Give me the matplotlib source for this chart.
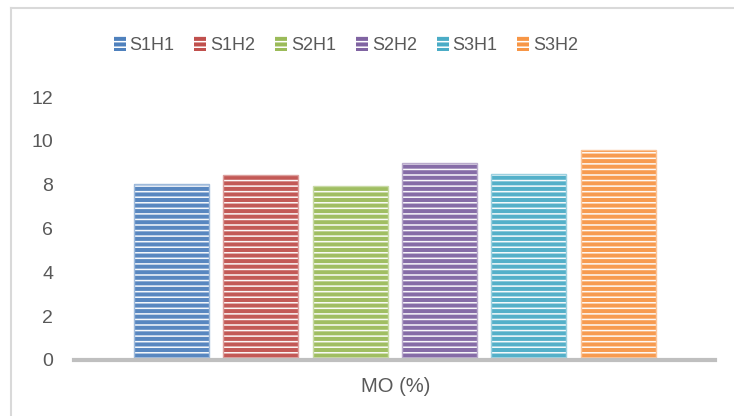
import matplotlib
matplotlib.use('Agg')
import matplotlib.pyplot as plt
import matplotlib.colors as mcolors
from matplotlib.patches import Patch
from matplotlib.lines import Line2D

plt.rcParams['font.family'] = ['Liberation Sans', 'DejaVu Sans']
plt.rcParams['hatch.linewidth'] = 1.1

# ── données ──
series   = ["S1H1", "S1H2", "S2H1", "S2H2", "S3H1", "S3H2"]
values   = [8.02, 8.43, 7.93, 8.98, 8.48, 9.58]
colors   = ["#4f81bd", "#c0504d", "#9bbb59", "#8064a2", "#4bacc6", "#f79646"]
category = "MO (%)"
yticks   = [0, 2, 4, 6, 8, 10, 12]

txt = "#595959"
fs = 13


def lighten(c, f=0.45):
    r, g, b = mcolors.to_rgb(c)
    return (r + (1 - r) * f, g + (1 - g) * f, b + (1 - b) * f)


fig = plt.figure(figsize=(7.34, 4.16), dpi=100)
W = 715 - 74
ax = fig.add_axes([74 / 734, 1 - 360 / 416, W / 734, (360 - 97) / 416])

n = len(series)
bw = 75 / W
gap = 14.3 / W
start = (134 - 74) / W
for i, (s, v, c) in enumerate(zip(series, values, colors)):
    x = start + i * (bw + gap) + bw / 2
    ax.bar(x, v, width=bw, color=c, edgecolor="#ffffff", linewidth=0,
           hatch="---", alpha=0.95)
    ax.bar(x, v, width=bw, fill=False, edgecolor=lighten(c), linewidth=1.0)

ax.set_xlim(0, 1)
ax.set_ylim(0, 12)
ax.set_yticks(yticks)
ax.set_yticklabels([str(t) for t in yticks], fontsize=14, color=txt)
ax.tick_params(axis="y", length=0, pad=15)
ax.set_xticks([])
for sp in ["top", "right", "left"]:
    ax.spines[sp].set_visible(False)
ax.spines["bottom"].set_color("#bfbfbf")
ax.spines["bottom"].set_linewidth(3)

fig.text(396 / 734, 1 - 387 / 416, category, ha="center", va="center",
         fontsize=14.5, color=txt)

handles = [Patch(facecolor=c, edgecolor="#ffffff", linewidth=0, hatch="---")
           for c in colors]
fig.legend(handles, series, loc="center", bbox_to_anchor=(346 / 734, 1 - 45 / 416),
           ncol=n, frameon=False, fontsize=fs, handlelength=0.66, handleheight=0.9,
           handletextpad=0.22, columnspacing=1.1, labelcolor=txt)

# cadre du graphique
fig.add_artist(Line2D([11 / 734, 11 / 734], [0, 1 - 8 / 416], transform=fig.transFigure,
                      color="#d9d9d9", linewidth=1.5))
fig.add_artist(Line2D([11 / 734, 1], [1 - 8 / 416, 1 - 8 / 416], transform=fig.transFigure,
                      color="#d9d9d9", linewidth=1.5))

fig.savefig("out.png", dpi=100)
